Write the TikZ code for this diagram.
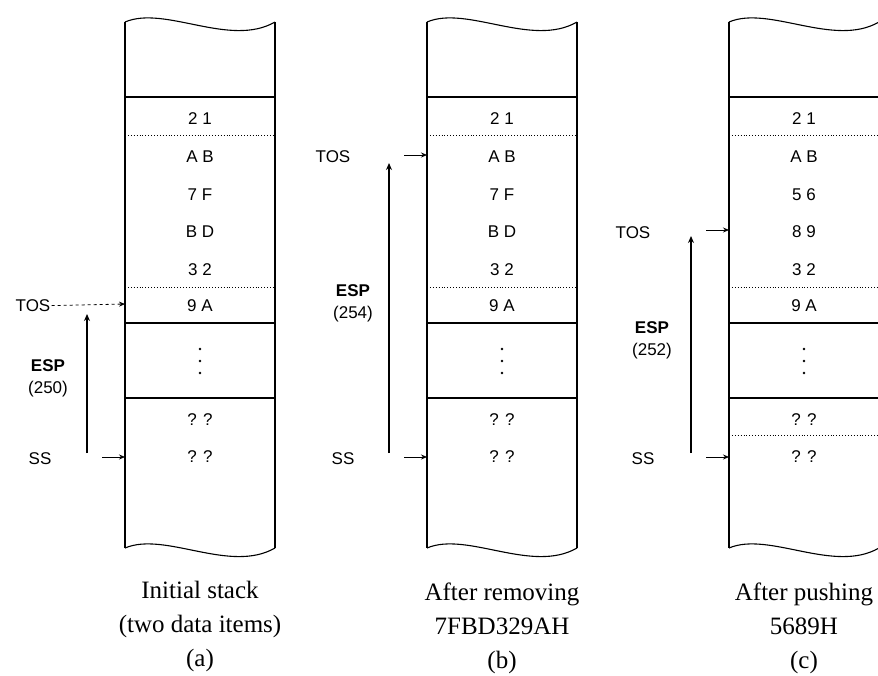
\documentclass[tikz,border=0pt]{standalone}
\usepackage{fontspec}
\setmainfont{Liberation Serif}
\setsansfont{Liberation Sans}
\usetikzlibrary{arrows.meta,positioning}

\begin{document}
\begin{tikzpicture}[x=1pt,y=-1pt,
  frame/.style={line width=1.4pt},
  wave/.style={line width=1.1pt},
  sep/.style={line width=0.9pt,dotted},
  cell/.style={font=\sffamily\fontsize{17}{20}\selectfont,inner sep=0pt},
  lbl/.style={font=\sffamily\fontsize{17}{22}\selectfont,inner sep=1pt,align=center},
  capt/.style={font=\fontsize{25}{34}\selectfont,align=center,inner sep=0pt},
  arr/.style={-{Stealth[length=6pt,width=5pt]},line width=0.8pt},
  up/.style={-{Stealth[length=7pt,width=6pt]},line width=1.4pt}
]
  \useasboundingbox (0,0) rectangle (878,675);

  % the three stack frames
  \foreach \L in {125,427,729}{
    \draw[frame] (\L,22) -- ++(0,526);
    \draw[frame] (\L+150,22) -- ++(0,526);
    \draw[frame] (\L,97) -- ++(150,0) (\L,323) -- ++(150,0) (\L,398) -- ++(150,0);
    \draw[sep] (\L,135) -- ++(150,0) (\L,287) -- ++(150,0);
    \draw[wave] (\L,22) .. controls +(40,-17) and +(-45,26) .. ++(150,0);
    \draw[wave] (\L,548) .. controls +(40,-17) and +(-45,26) .. ++(150,0);
    \foreach \y in {349,361,373} \fill (\L+75,\y) circle (1.4);
  }
  \draw[sep] (729,435) -- (879,435);

  % (a) initial stack
  \node[cell] (a1) at (200,119) {2 1};
  \node[cell] (a2) at (200,157) {A B};
  \node[cell] (a3) at (200,195) {7 F};
  \node[cell] (a4) at (200,232) {B D};
  \node[cell] (a5) at (200,270) {3 2};
  \node[cell] (a6) at (200,306) {9 A};
  \node[cell] (a8) at (200,420) {? ?};
  \node[cell] (a9) at (200,457) {? ?};
  \node[lbl] (tosA) at (33,306) {TOS};
  \coordinate (tosAp) at (125,304);
  \draw[arr,dashed] (tosA) -- (tosAp);
  \node[lbl] (espA) at (48,378) {\textbf{ESP}\\(250)};
  \coordinate (espAb) at (87,453);
  \coordinate (espAt) at (87,314);
  \draw[up] (espAb) -- (espAt);
  \node[lbl] (ssA) at (40,459) {SS};
  \coordinate (ssAs) at (102,457);
  \coordinate (ssAp) at (125,457);
  \draw[arr] (ssAs) -- (ssAp);
  \node[capt] (capA) at (200,626) {Initial stack\\(two data items)\\(a)};

  % (b) after removing
  \node[cell] (b1) at (502,119) {2 1};
  \node[cell] (b2) at (502,157) {A B};
  \node[cell] (b3) at (502,195) {7 F};
  \node[cell] (b4) at (502,232) {B D};
  \node[cell] (b5) at (502,270) {3 2};
  \node[cell] (b6) at (502,306) {9 A};
  \node[cell] (b8) at (502,420) {? ?};
  \node[cell] (b9) at (502,457) {? ?};
  \node[lbl] (tosB) at (333,157) {TOS};
  \coordinate (tosBs) at (404,155);
  \coordinate (tosBp) at (427,155);
  \draw[arr] (tosBs) -- (tosBp);
  \node[lbl] (espB) at (353,303) {\textbf{ESP}\\(254)};
  \coordinate (espBb) at (389,453);
  \coordinate (espBt) at (389,163);
  \draw[up] (espBb) -- (espBt);
  \node[lbl] (ssB) at (343,459) {SS};
  \coordinate (ssBs) at (404,457);
  \coordinate (ssBp) at (427,457);
  \draw[arr] (ssBs) -- (ssBp);
  \node[capt] (capB) at (502,628) {After removing\\7FBD329AH\\(b)};

  % (c) after pushing
  \node[cell] (c1) at (804,119) {2 1};
  \node[cell] (c2) at (804,157) {A B};
  \node[cell] (c3) at (804,195) {5 6};
  \node[cell] (c4) at (804,232) {8 9};
  \node[cell] (c5) at (804,270) {3 2};
  \node[cell] (c6) at (804,306) {9 A};
  \node[cell] (c8) at (804,420) {? ?};
  \node[cell] (c9) at (804,457) {? ?};
  \node[lbl] (tosC) at (633,233) {TOS};
  \coordinate (tosCs) at (706,230);
  \coordinate (tosCp) at (729,230);
  \draw[arr] (tosCs) -- (tosCp);
  \node[lbl] (espC) at (652,340) {\textbf{ESP}\\(252)};
  \coordinate (espCb) at (691,453);
  \coordinate (espCt) at (691,236);
  \draw[up] (espCb) -- (espCt);
  \node[lbl] (ssC) at (643,459) {SS};
  \coordinate (ssCs) at (706,457);
  \coordinate (ssCp) at (729,457);
  \draw[arr] (ssCs) -- (ssCp);
  \node[capt] (capC) at (804,628) {After pushing\\5689H\\(c)};
\end{tikzpicture}
\end{document}
